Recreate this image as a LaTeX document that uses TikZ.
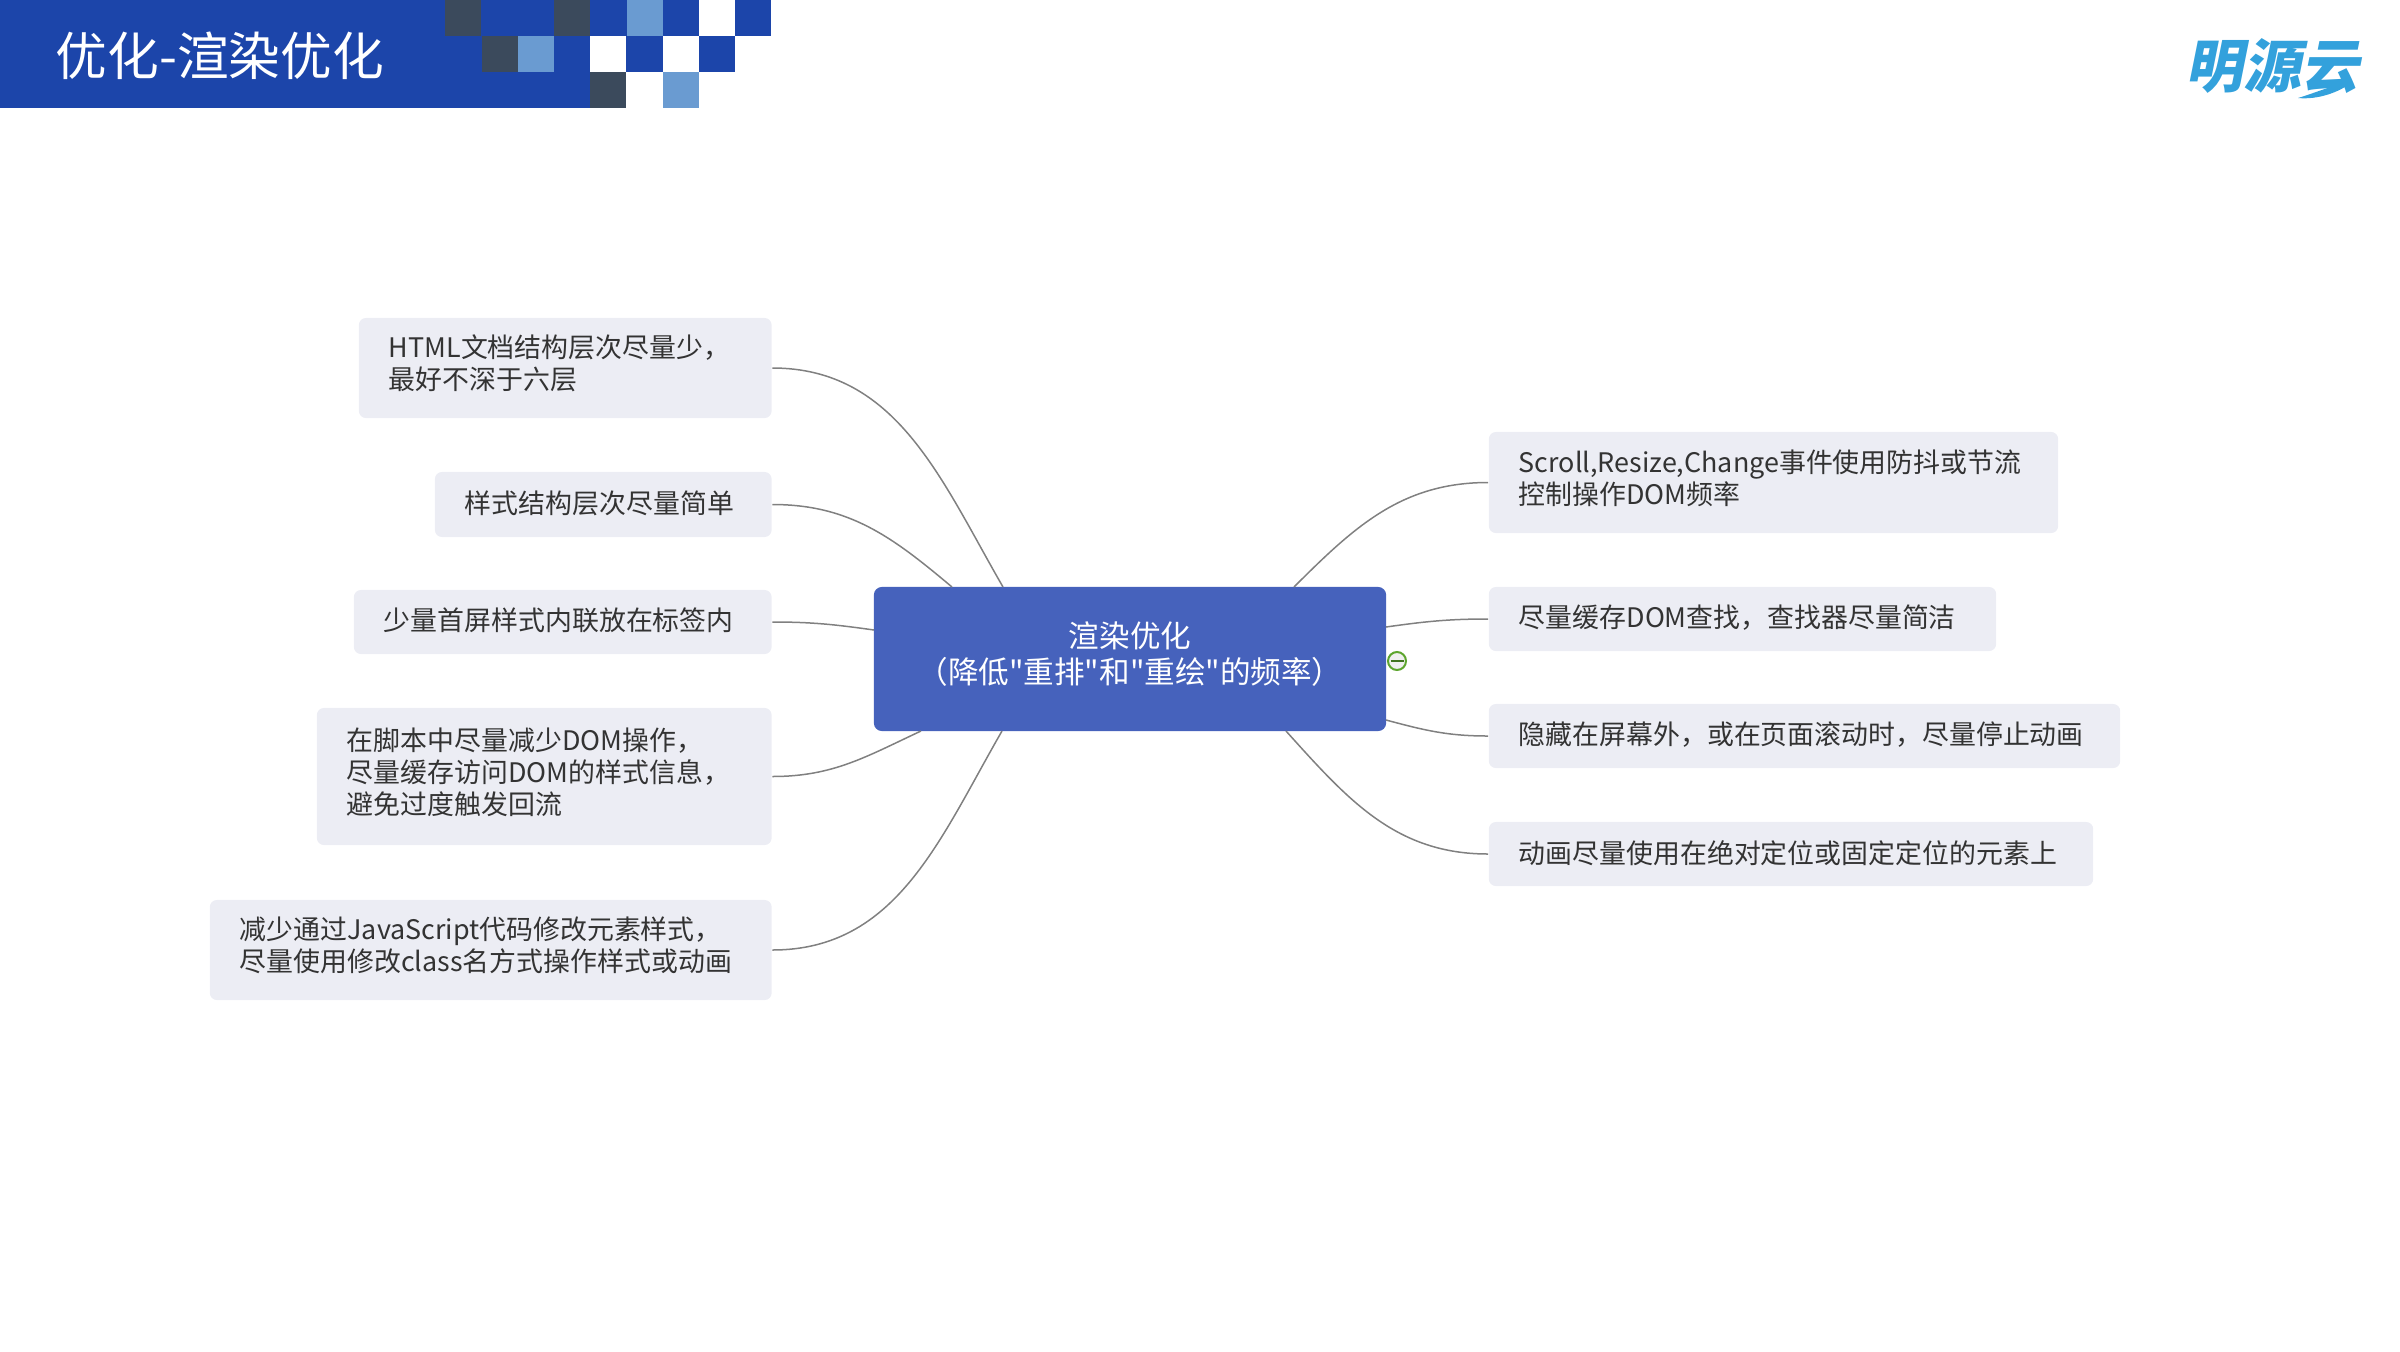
\documentclass[tikz,border=0pt]{standalone}
\usepackage{fontspec}
\setmainfont{Noto Sans CJK SC}
\newfontfamily\rootfont{Noto Sans CJK SC}
\newfontfamily\logofont[FakeSlant=0.2]{Noto Sans CJK SC}
\definecolor{bandblue}{HTML}{1C45AA}
\definecolor{darkcell}{HTML}{3B4A5C}
\definecolor{lightcell}{HTML}{6A9BD1}
\definecolor{rootblue}{HTML}{4662BC}
\definecolor{leaffill}{HTML}{ECEDF4}
\definecolor{leaftext}{HTML}{333333}
\definecolor{linkgray}{HTML}{808080}
\definecolor{foldgreen}{HTML}{5DA52E}
\definecolor{logoblue}{HTML}{33A1DC}
\tikzset{
  leafbox/.style={fill=leaffill,rounded corners=0.07cm,inner xsep=0.3cm,inner ysep=0pt,
    align=left,text=leaftext,font=\fontsize{7.65pt}{9.1pt}\selectfont,
    execute at end node={\rule[-#1]{0pt}{0pt}}},
  leafbox/.default=3.3pt,
  rootbox/.style={fill=rootblue,rounded corners=0.08cm,inner xsep=0.3cm,inner ysep=0pt,
    align=center,text=white,font=\rootfont\fontsize{8.7pt}{10.4pt}\selectfont,
    execute at end node={\rule[-3.6pt]{0pt}{0pt}}},
  link/.style={draw=linkgray,line width=0.015cm},
  foldicon/.style={circle,draw=foldgreen,fill=black!6,line width=0.02cm,minimum size=0.18cm,inner sep=0pt}
}
\begin{document}
\begin{tikzpicture}[x=0.01cm,y=-0.01cm]
  \useasboundingbox (0,0) rectangle (2400,1351);
  % header band
  \fill[bandblue] (0,0) rectangle (590,108);
  \fill[bandblue] (590,0) rectangle (771,36);
  \fill[bandblue] (590,36) rectangle (735,72);
  \foreach \cx/\cy/\cc in {445/0/darkcell,554/0/darkcell,626.5/0/lightcell,699/0/white,
    482/36/darkcell,518/36/lightcell,590/36/white,663/36/white,
    590/72/darkcell,663/72/lightcell}
    \fill[\cc] (\cx,\cy) rectangle +(36.3,36);
  \node[anchor=west,text=white,inner sep=0pt,font=\fontsize{14.7pt}{16pt}\selectfont] (title) at (55,56) {优化-渲染优化};
  % logo
  \node[anchor=west,text=logoblue,inner sep=0pt,font=\logofont\bfseries\fontsize{16.4pt}{18pt}\selectfont] (logo) at (2185,66) {明源云};
  \fill[logoblue] (2298,98) .. controls (2318,92) and (2335,84) .. (2352,82) .. controls (2340,92) and (2318,100) .. (2298,98) -- cycle;
  % center
  \node[rootbox,text width=4.52cm,minimum height=1.44cm] (root) at (1130,659) {渲染优化\\（降低"重排"和"重绘"的频率）};
  \coordinate (rootA) at (1003,587);
  \coordinate (rootB) at (952,587);
  \coordinate (rootC) at (874,630);
  \coordinate (rootD) at (921,731);
  \coordinate (rootE) at (1002,731);
  \coordinate (rootF) at (1294,587);
  \coordinate (rootG) at (1386,627);
  \coordinate (rootH) at (1386,720);
  \coordinate (rootI) at (1286,731);
  % left side
  \node[leafbox,text width=3.525cm,minimum height=1cm] (htmlbox) at (565.25,368) {HTML文档结构层次尽量少，\\最好不深于六层};
  \node[leafbox=1.4pt,text width=2.765cm,minimum height=0.65cm] (stylebox) at (603.25,504.5) {样式结构层次尽量简单};
  \node[leafbox=1.4pt,text width=3.575cm,minimum height=0.64cm] (inlinebox) at (562.75,622) {少量首屏样式内联放在标签内};
  \node[leafbox,text width=3.945cm,minimum height=1.37cm] (dombox) at (544.25,776.5) {在脚本中尽量减少DOM操作，\\尽量缓存访问DOM的样式信息，\\避免过度触发回流};
  \node[leafbox,text width=5.015cm,minimum height=1cm] (jsbox) at (490.75,950) {减少通过JavaScript代码修改元素样式，\\尽量使用修改class名方式操作样式或动画};
  % right side
  \node[leafbox,text width=5.09cm,minimum height=1.01cm] (scrollbox) at (1773.5,482.5) {Scroll,Resize,Change事件使用防抖或节流\\控制操作DOM频率};
  \node[leafbox=1.4pt,text width=4.47cm,minimum height=0.64cm] (querybox) at (1742.5,619) {尽量缓存DOM查找，查找器尽量简洁};
  \node[leafbox=1.4pt,text width=5.71cm,minimum height=0.64cm] (hidebox) at (1804.5,736) {隐藏在屏幕外，或在页面滚动时，尽量停止动画};
  \node[leafbox=1.4pt,text width=5.44cm,minimum height=0.64cm] (animbox) at (1791,854) {动画尽量使用在绝对定位或固定定位的元素上};
  % links
  \draw[link] (htmlbox.east) to[out=0,in=120] (rootA);
  \draw[link] (stylebox.east) to[out=0,in=140] (rootB);
  \draw[link] (inlinebox.east) to[out=0,in=172] (rootC);
  \draw[link] (dombox.east) to[out=0,in=205] (rootD);
  \draw[link] (jsbox.east) to[out=0,in=240] (rootE);
  \draw[link] (scrollbox.west) to[out=180,in=45] (rootF);
  \draw[link] (querybox.west) to[out=180,in=8] (rootG);
  \draw[link] (hidebox.west) to[out=180,in=-15] (rootH);
  \draw[link] (animbox.west) to[out=180,in=-48] (rootI);
  % fold mark
  \node[foldicon] (fold) at (1397,661) {};
  \draw[foldgreen!70!black,line width=0.02cm] ([xshift=0.035cm]fold.west) -- ([xshift=-0.035cm]fold.east);
\end{tikzpicture}
\end{document}
